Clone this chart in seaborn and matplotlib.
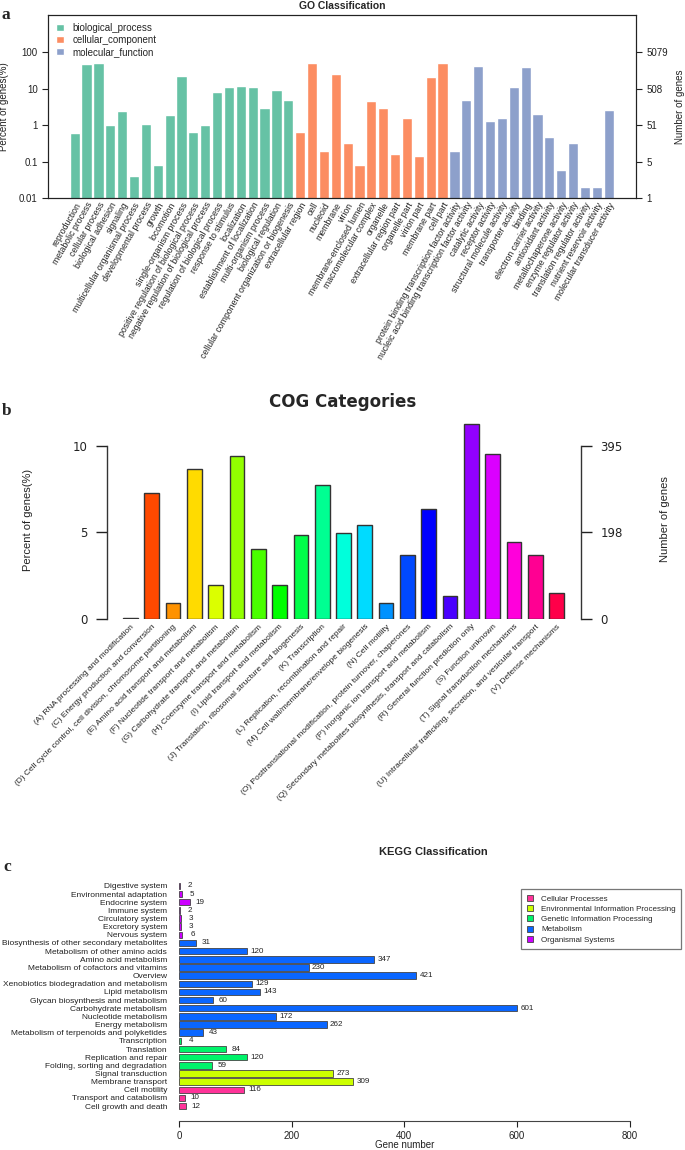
import numpy as np
import pandas as pd
import matplotlib
matplotlib.use('Agg')
import matplotlib.pyplot as plt
import seaborn as sns
from matplotlib.ticker import NullLocator

sns.set_theme(style='white')
plt.rcParams['font.family'] = ['Liberation Sans', 'DejaVu Sans']

### GO data ###
go_terms = ['reproduction', 'metabolic process', 'cellular process', 'biological adhesion', 'signaling',
            'multicellular organismal process', 'developmental process', 'growth', 'locomotion',
            'single-organism process', 'positive regulation of biological process',
            'negative regulation of biological process', 'regulation of biological process',
            'response to stimulus', 'localization', 'establishment of localization',
            'multi-organism process', 'biological regulation',
            'cellular component organization or biogenesis',
            'extracellular region', 'cell', 'nucleoid', 'membrane', 'virion', 'membrane-enclosed lumen',
            'macromolecular complex', 'organelle', 'extracellular region part', 'organelle part',
            'virion part', 'membrane part', 'cell part',
            'protein binding transcription factor activity',
            'nucleic acid binding transcription factor activity', 'catalytic activity',
            'receptor activity', 'structural molecule activity', 'transporter activity', 'binding',
            'electron carrier activity', 'antioxidant activity', 'metallochaperone activity',
            'enzyme regulator activity', 'translation regulator activity',
            'nutrient reservoir activity', 'molecular transducer activity']
go_class = ['biological_process'] * 19 + ['cellular_component'] * 13 + ['molecular_function'] * 14
go_pct = [0.59, 47, 51, 1.0, 2.5, 0.04, 1.08, 0.08, 1.9, 22, 0.63, 0.98, 8.3, 11, 12, 11, 3.0, 9.4, 4.8,
          0.63, 50, 0.2, 26, 0.32, 0.08, 4.6, 2.9, 0.16, 1.55, 0.14, 21, 50,
          0.2, 5.0, 42, 1.26, 1.6, 11, 40, 2.0, 0.48, 0.059, 0.33, 0.02, 0.02, 2.6]
go_left_ticks = [0.01, 0.1, 1, 10, 100]
go_left_labels = ['0.01', '0.1', '1', '10', '100']
go_right_labels = ['1', '5', '51', '508', '5079']
go_colors = {'biological_process': '#66C2A5', 'cellular_component': '#FC8D62',
             'molecular_function': '#8DA0CB'}

### COG data ###
cog_terms = ['(A) RNA processing and modification', '(C) Energy production and conversion',
             '(D) Cell cycle control, cell division, chromosome partitioning',
             '(E) Amino acid transport and metabolism', '(F) Nucleotide transport and metabolism',
             '(G) Carbohydrate transport and metabolism', '(H) Coenzyme transport and metabolism',
             '(I) Lipid transport and metabolism', '(J) Translation, ribosomal structure and biogenesis',
             '(K) Transcription', '(L) Replication, recombination and repair',
             '(M) Cell wall/membrane/envelope biogenesis', '(N) Cell motility',
             '(O) Posttranslational modification, protein turnover, chaperones',
             '(P) Inorganic ion transport and metabolism',
             '(Q) Secondary metabolites biosynthesis, transport and catabolism',
             '(R) General function prediction only', '(S) Function unknown',
             '(T) Signal transduction mechanisms',
             '(U) Intracellular trafficking, secretion, and vesicular transport',
             '(V) Defense mechanisms']
cog_pct = [0.04, 7.26, 0.9, 8.66, 1.98, 9.40, 4.07, 1.96, 4.84, 7.72, 4.99,
           5.41, 0.92, 3.69, 6.37, 1.34, 11.29, 9.56, 4.45, 3.69, 1.48]
cog_colors = ['#FF0000', '#FF4900', '#FF9200', '#FFDB00', '#DBFF00', '#92FF00', '#49FF00',
              '#00FF00', '#00FF49', '#00FF92', '#00FFDB', '#00DBFF', '#0092FF', '#0049FF',
              '#0000FF', '#4900FF', '#9200FF', '#DB00FF', '#FF00DB', '#FF0092', '#FF0049']
cog_left_ticks = [0, 5, 10]
cog_right_labels = ['0', '198', '395']

### KEGG data ###
kegg_terms = ['Digestive system', 'Environmental adaptation', 'Endocrine system', 'Immune system',
              'Circulatory system', 'Excretory system', 'Nervous system',
              'Biosynthesis of other secondary metabolites', 'Metabolism of other amino acids',
              'Amino acid metabolism', 'Metabolism of cofactors and vitamins', 'Overview',
              'Xenobiotics biodegradation and metabolism', 'Lipid metabolism',
              'Glycan biosynthesis and metabolism', 'Carbohydrate metabolism', 'Nucleotide metabolism',
              'Energy metabolism', 'Metabolism of terpenoids and polyketides',
              'Transcription', 'Translation', 'Replication and repair', 'Folding, sorting and degradation',
              'Signal transduction', 'Membrane transport',
              'Cell motility', 'Transport and catabolism', 'Cell growth and death']
kegg_counts = [2, 5, 19, 2, 3, 3, 6,
               31, 120, 347, 230, 421, 129, 143, 60, 601, 172, 262, 43,
               4, 84, 120, 59,
               273, 309,
               116, 10, 12]
kegg_class = ['Organismal Systems'] * 7 + ['Metabolism'] * 12 + ['Genetic Information Processing'] * 4 + \
             ['Environmental Information Processing'] * 2 + ['Cellular Processes'] * 3
kegg_colors = {'Cellular Processes': '#FF3399', 'Environmental Information Processing': '#CCFF00',
               'Genetic Information Processing': '#00F36A', 'Metabolism': '#0A66FF',
               'Organismal Systems': '#CC00FF'}
kegg_ticks = [0, 200, 400, 600, 800]

W, H = 685, 1150


def box(l, t, r, b):
    # pixel box -> figure fraction rect
    return [l / W, 1 - b / H, (r - l) / W, (b - t) / H]


fig = plt.figure(figsize=(W / 100, H / 100), dpi=100)
serif = ['Liberation Serif', 'DejaVu Serif']

# ---------------- a: GO ----------------
ax1 = fig.add_axes(box(48, 15, 636, 198))
go_df = pd.DataFrame({'term': go_terms, 'pct': go_pct, 'cls': go_class})
sns.barplot(data=go_df, x='term', y='pct', hue='cls', dodge=False, palette=go_colors,
            width=0.86, saturation=1, ax=ax1)
ax1.set_yscale('log')
ax1.set_ylim(0.01, 1050)
ax1.set_xlim(-2.25, 47.3)
ax1.set_yticks(go_left_ticks)
ax1.set_yticklabels(go_left_labels)
ax1.yaxis.set_minor_locator(NullLocator())
ax1.set_xticks(range(len(go_terms)))
ax1.set_xticklabels(go_terms, rotation=60, ha='right', rotation_mode='anchor')
ax1.tick_params(axis='x', length=0, labelsize=6.3, pad=2, colors='#222222')
ax1.tick_params(axis='y', left=True, length=4, width=0.8, labelsize=7, colors='#222222')
ax1.set_xlabel('')
ax1.set_ylabel('Percent of genes(%)', fontsize=7, color='#222222')
ax1.yaxis.set_label_coords(-0.066, 0.5)
for s in ax1.spines.values():
    s.set_color('#222222')
    s.set_linewidth(0.8)
h, l = ax1.get_legend_handles_labels()
ax1.legend(h, l, loc='upper left', bbox_to_anchor=(0.0, 1.0), frameon=False, fontsize=7,
           handlelength=0.8, handleheight=0.8, handletextpad=0.9, labelspacing=0.22,
           borderaxespad=0.4)

ax1r = ax1.twinx()
ax1r.set_yscale('log')
ax1r.set_ylim(ax1.get_ylim())
ax1r.set_yticks(go_left_ticks)
ax1r.set_yticklabels(go_right_labels)
ax1r.yaxis.set_minor_locator(NullLocator())
ax1r.tick_params(axis='y', right=True, length=4, width=0.8, labelsize=7, colors='#222222')
ax1r.set_ylabel('Number of genes', fontsize=7, color='#222222')
ax1r.yaxis.set_label_coords(1.066, 0.5)
for s in ax1r.spines.values():
    s.set_color('#222222')
    s.set_linewidth(0.8)

fig.text(342 / W, 1 - 6 / H, 'GO Classification', ha='center', va='center',
         fontsize=7.5, fontweight='bold')
fig.text(2 / W, 1 - 15 / H, 'a', ha='left', va='center', fontsize=12.5,
         fontweight='bold', family=serif)

# ---------------- b: COG ----------------
ax2 = fig.add_axes(box(107, 420, 581, 619))
sns.barplot(x=cog_terms, y=cog_pct, hue=cog_terms, palette=cog_colors, legend=False,
            width=0.69, saturation=1, edgecolor='#333333', linewidth=1.0, ax=ax2)
ax2.set_xlim(-1.1, 21.15)
ax2.set_ylim(0, 11.5)
for k in ['top', 'bottom', 'right']:
    ax2.spines[k].set_visible(False)
ax2.spines['left'].set_bounds(0, 10)
ax2.spines['left'].set_color('#333333')
ax2.spines['left'].set_linewidth(1.0)
ax2.set_yticks(cog_left_ticks)
ax2.set_yticklabels([str(t) for t in cog_left_ticks], family=['DejaVu Sans'])
ax2.tick_params(axis='y', left=True, length=8, width=1.0, pad=6, labelsize=8.5, colors='#222222')
ax2.set_xticks(range(len(cog_terms)))
ax2.set_xticklabels(cog_terms, rotation=45, ha='right', rotation_mode='anchor')
ax2.tick_params(axis='x', length=0, labelsize=6, pad=3, colors='#222222')
ax2.set_ylabel('Percent of genes(%)', fontsize=8, color='#222222')
ax2.yaxis.set_label_coords(-0.156, 0.5)

ax2r = ax2.twinx()
ax2r.set_ylim(0, 11.5)
for k in ['top', 'bottom', 'left']:
    ax2r.spines[k].set_visible(False)
ax2r.spines['right'].set_bounds(0, 10)
ax2r.spines['right'].set_color('#333333')
ax2r.spines['right'].set_linewidth(1.0)
ax2r.set_yticks(cog_left_ticks)
ax2r.set_yticklabels(cog_right_labels, family=['DejaVu Sans'])
ax2r.tick_params(axis='y', right=True, length=8, width=1.0, pad=6, labelsize=8.5, colors='#222222')
ax2r.set_ylabel('Number of genes', fontsize=8, color='#222222')
ax2r.yaxis.set_label_coords(1.167, 0.5)

fig.text(343 / W, 1 - 402 / H, 'COG Categories', ha='center', va='center',
         fontsize=12, fontweight='bold', family=['DejaVu Sans'])
fig.text(2 / W, 1 - 411 / H, 'b', ha='left', va='center', fontsize=12.5,
         fontweight='bold', family=serif)

# ---------------- c: KEGG ----------------
ax3 = fig.add_axes(box(179, 881, 629.5, 1111))
kegg_df = pd.DataFrame({'term': kegg_terms, 'n': kegg_counts, 'cls': kegg_class})
sns.barplot(data=kegg_df, x='n', y='term', hue='cls', hue_order=sorted(kegg_colors),
            dodge=False, orient='h', palette=kegg_colors, width=0.8, saturation=1,
            edgecolor='#444444', linewidth=0.6, ax=ax3)
ax3.set_xlim(0, 800)
ax3.set_ylim(len(kegg_terms) - 0.4, -0.6)
for k in ['top', 'left', 'right']:
    ax3.spines[k].set_visible(False)
ax3.spines['bottom'].set_position(('outward', 7))
ax3.spines['bottom'].set_bounds(0, 800)
ax3.spines['bottom'].set_color('#444444')
ax3.spines['bottom'].set_linewidth(0.8)
ax3.set_xticks(kegg_ticks)
ax3.set_xticklabels([str(t) for t in kegg_ticks])
ax3.tick_params(axis='x', bottom=True, length=4, width=0.8, pad=3.5, labelsize=7, colors='#222222')
ax3.tick_params(axis='y', length=0, pad=8.5, labelsize=6, colors='#222222')
ax3.set_ylabel('')
ax3.set_xlabel('Gene number', fontsize=7, color='#222222')
ax3.xaxis.set_label_coords(0.5, -(1139.5 - 1111) / 230)
for i, v in enumerate(kegg_counts):
    ax3.text(v + 18, i, str(v), ha='center', va='center', fontsize=5.8, color='#222222')
h, l = ax3.get_legend_handles_labels()
leg = ax3.legend(h, l, loc='upper left', bbox_to_anchor=(517 / W, 1 - 885 / H),
                 bbox_transform=fig.transFigure, fontsize=5.8, frameon=True, fancybox=False,
                 edgecolor='#555555', handlelength=0.8, handleheight=0.8, handletextpad=1.0,
                 labelspacing=0.3, borderpad=0.7)
leg.get_frame().set_linewidth(0.9)

fig.text(433 / W, 1 - 852 / H, 'KEGG Classification', ha='center', va='center',
         fontsize=8, fontweight='bold')
fig.text(3 / W, 1 - 867 / H, 'c', ha='left', va='center', fontsize=12.5,
         fontweight='bold', family=serif)

fig.savefig('out.png', dpi=100, facecolor='white')
